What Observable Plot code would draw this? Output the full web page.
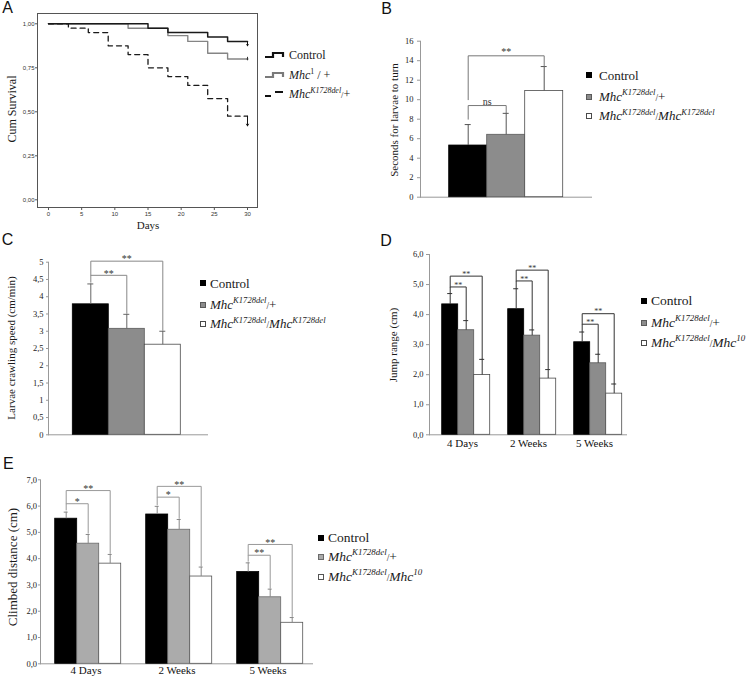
<!DOCTYPE html>
<html><head><meta charset="utf-8">
<script src="https://cdn.jsdelivr.net/npm/d3@7"></script>
<script src="https://cdn.jsdelivr.net/npm/@observablehq/plot@0.6"></script>
<style>
body{margin:0;background:#fff;}
#fig{position:relative;width:754px;height:678px;overflow:hidden;background:#fff;}
.t sup{font-size:0.66em;position:relative;top:-0.62em;vertical-align:baseline;line-height:0;}
.t .sl{font-size:0.72em;}
</style></head>
<body><div id="fig"></div>
<script>
// ---------- Panel A: Kaplan-Meier survival ----------
const controlDays = [0, 15, 18, 24, 27, 30];
const controlSurv = [1.0, 0.975, 0.95, 0.925, 0.9, 0.9];
const mhc1Days = [0, 12, 18, 21, 24, 27, 30];
const mhc1Surv = [1.0, 0.975, 0.933, 0.9, 0.833, 0.8, 0.8];
const k1728Days = [0, 3, 6, 9, 12, 15, 18, 21, 24, 27, 30];
const k1728Surv = [1.0, 0.975, 0.95, 0.875, 0.825, 0.75, 0.7, 0.65, 0.575, 0.475, 0.475];
const censorDay = [30, 30, 30];
const censorFrom = [0.9, 0.81, 0.475];
const censorTo = [0.875, 0.795, 0.42];
const censorColor = ["#111", "#333", "#111"];
const survTicksX = [0, 5, 10, 15, 20, 25, 30];
const survTicksY = [0, 0.25, 0.5, 0.75, 1];

// ---------- Panel B: seconds to turn ----------
const genoB = ["Control", "Mhc K1728del/+", "Mhc K1728del/Mhc K1728del"];
const turnMeans = [[5.3], [6.4], [10.9]];
const turnErrs = [[2.15], [2.2], [2.5]];
const turnBrackets = [
  {group: "all", from: 0, to: 1, top: 9.4, yl: 8.0, yr: 8.65, label: "ns"},
  {group: "all", from: 0, to: 2, top: 14.5, yl: 10.0, yr: 13.45, label: "**"}
];

// ---------- Panel C: crawling speed ----------
const crawlMeans = [[3.78], [3.07], [2.61]];
const crawlErrs = [[0.59], [0.42], [0.39]];
const crawlBrackets = [
  {group: "all", from: 0, to: 1, top: 4.62, yl: 4.42, yr: 3.52, label: "**"},
  {group: "all", from: 0, to: 2, top: 5.03, yl: 4.62, yr: 3.03, label: "**"}
];

// ---------- Panel D: jump range ----------
const ageGroups = ["4 Days", "2 Weeks", "5 Weeks"];
const genoD = ["Control", "Mhc K1728del/+", "Mhc K1728del/Mhc 10"];
const jumpControl = [4.34, 4.18, 3.08];
const jumpHet = [3.48, 3.30, 2.38];
const jumpHomo = [1.99, 1.87, 1.37];
const jumpControlErr = [0.36, 0.68, 0.34];
const jumpHetErr = [0.32, 0.19, 0.30];
const jumpHomoErr = [0.52, 0.30, 0.32];
const jumpBrackets = [
  {group: "4 Days", from: 0, to: 1, top: 4.92, yl: 4.72, yr: 3.82, label: "**"},
  {group: "4 Days", from: 0, to: 2, top: 5.28, yl: 4.92, yr: 2.53, label: "**"},
  {group: "2 Weeks", from: 0, to: 1, top: 5.12, yl: 4.88, yr: 3.51, label: "**"},
  {group: "2 Weeks", from: 0, to: 2, top: 5.48, yl: 5.12, yr: 2.19, label: "**"},
  {group: "5 Weeks", from: 0, to: 1, top: 3.68, yl: 3.44, yr: 2.70, label: "**"},
  {group: "5 Weeks", from: 0, to: 2, top: 4.03, yl: 3.68, yr: 1.71, label: "**"}
];

// ---------- Panel E: climbed distance ----------
const climbControl = [5.52, 5.68, 3.49];
const climbHet = [4.57, 5.10, 2.53];
const climbHomo = [3.81, 3.32, 1.56];
const climbControlErr = [0.25, 0.31, 0.35];
const climbHetErr = [0.35, 0.39, 0.31];
const climbHomoErr = [0.35, 0.36, 0.20];
const climbBrackets = [
  {group: "4 Days", from: 0, to: 1, top: 6.09, yl: 5.85, yr: 4.97, label: "*"},
  {group: "4 Days", from: 0, to: 2, top: 6.59, yl: 6.09, yr: 4.20, label: "**"},
  {group: "2 Weeks", from: 0, to: 1, top: 6.34, yl: 6.05, yr: 5.53, label: "*"},
  {group: "2 Weeks", from: 0, to: 2, top: 6.75, yl: 6.34, yr: 3.72, label: "**"},
  {group: "5 Weeks", from: 0, to: 1, top: 4.13, yl: 3.90, yr: 2.88, label: "**"},
  {group: "5 Weeks", from: 0, to: 2, top: 4.54, yl: 4.13, yr: 1.80, label: "**"}
];

// ---------- legend texts ----------
const legendA = ["Control", "<i>Mhc</i><sup>1</sup> / +", "<i>Mhc</i><sup><i>K1728del</i></sup><span class='sl'>/</span>+"];
const legendBC = ["Control", "<i>Mhc</i><sup><i>K1728del</i></sup><span class='sl'>/</span>+", "<i>Mhc</i><sup><i>K1728del</i></sup><span class='sl'>/</span><i>Mhc</i><sup><i>K1728del</i></sup>"];
const legendDE = ["Control", "<i>Mhc</i><sup><i>K1728del</i></sup><span class='sl'>/</span>+", "<i>Mhc</i><sup><i>K1728del</i></sup><span class='sl'>/</span><i>Mhc</i><sup><i>10</i></sup>"];

const SERIF = '"Liberation Serif","Times New Roman",serif';
const SANS = '"Liberation Sans",Arial,sans-serif';
const fig = document.getElementById("fig");

function place(el, left, top) {
  const d = document.createElement("div");
  d.style.cssText = `position:absolute;left:${left}px;top:${top}px;`;
  d.appendChild(el);
  fig.appendChild(d);
}
function label(html, x, y, {size = 11, family = SERIF, anchor = "middle", rotate = false, color = "#1a1a1a"} = {}) {
  const outer = document.createElement("div");
  outer.style.cssText = `position:absolute;left:${x}px;top:${y}px;width:0;height:0;`;
  const inner = document.createElement("div");
  inner.className = "t";
  inner.innerHTML = html;
  const tx = anchor === "start" ? "0" : anchor === "end" ? "-100%" : "-50%";
  inner.style.cssText = `position:absolute;left:0;top:0;white-space:nowrap;line-height:1;font-size:${size}px;font-family:${family};color:${color};transform:translate(${tx},-50%)${rotate ? " rotate(-90deg)" : ""};`;
  outer.appendChild(inner);
  fig.appendChild(outer);
}
function legend(labels, fills, strokes, {sx, tx, ys, size, sw = 6}) {
  labels.forEach((h, i) => {
    const sq = document.createElement("div");
    sq.style.cssText = `position:absolute;left:${sx}px;top:${ys[i] - sw / 2}px;width:${sw}px;height:${sw}px;background:${fills[i]};border:0.8px solid ${strokes[i]};box-sizing:border-box;`;
    fig.appendChild(sq);
    label(h, tx, ys[i], {size, anchor: "start"});
  });
}

// ---------- Panel A ----------
(function () {
  const ctl = controlDays.map((d, i) => ({day: d, s: controlSurv[i]}));
  const m1 = mhc1Days.map((d, i) => ({day: d, s: mhc1Surv[i]}));
  const kd = k1728Days.map((d, i) => ({day: d, s: k1728Surv[i]}));
  const cens = censorDay.map((d, i) => ({day: d, from: censorFrom[i], to: censorTo[i], c: censorColor[i]}));
  const comma2 = d => d.toFixed(2).replace(".", ",");
  const p = Plot.plot({
    width: 262, height: 232,
    marginLeft: 37, marginTop: 13, marginRight: 5, marginBottom: 25,
    x: {domain: [0, 30], range: [48, 247]},
    y: {domain: [0, 1], range: [199.3, 23.3]},
    style: {fontFamily: SANS, fontSize: "6px", color: "#333", background: "transparent", overflow: "visible", maxWidth: "none"},
    marks: [
      Plot.frame({stroke: "#555"}),
      Plot.axisX({ticks: survTicksX, tickSize: 3, tickPadding: 1, fontSize: 6, label: null, stroke: "#555"}),
      Plot.axisY({ticks: survTicksY, tickFormat: comma2, tickSize: 2, tickPadding: 1, fontSize: 6, label: null, stroke: "#555"}),
      Plot.line(m1, {x: "day", y: "s", curve: "step-after", stroke: "#858585", strokeWidth: 1.4}),
      Plot.line(ctl, {x: "day", y: "s", curve: "step-after", stroke: "#1a1a1a", strokeWidth: 1.5}),
      Plot.line(kd, {x: "day", y: "s", curve: "step-after", stroke: "#1a1a1a", strokeWidth: 1.3, strokeDasharray: "5,4"}),
      Plot.arrow(cens, {x1: "day", y1: "from", x2: "day", y2: "to", stroke: "c", headLength: 3, strokeWidth: 1})
    ]
  });
  place(p, 0, 0);
  label("Cum Survival", 12, 109, {size: 12, rotate: true});
  label("Days", 148, 225, {size: 11});
  // legend with step icons
  const icons = [
    {path: "M0,5H8V1H18V5", dash: null, color: "#111"},
    {path: "M0,5H8V1H18V5", dash: null, color: "#7a7a7a"},
    {path: "M0,5H6M10,1H18", dash: null, color: "#111"}
  ];
  const ys = [55, 75, 94];
  icons.forEach((ic, i) => {
    const s = document.createElementNS("http://www.w3.org/2000/svg", "svg");
    s.setAttribute("width", 20); s.setAttribute("height", 8);
    s.style.cssText = `position:absolute;left:265px;top:${ys[i] - 3}px;overflow:visible;`;
    const pth = document.createElementNS("http://www.w3.org/2000/svg", "path");
    pth.setAttribute("d", ic.path); pth.setAttribute("fill", "none");
    pth.setAttribute("stroke", ic.color); pth.setAttribute("stroke-width", 2.2);
    s.appendChild(pth); fig.appendChild(s);
    label(legendA[i], 289, ys[i], {size: 12, anchor: "start"});
  });
})();

// ---------- generic bar panel ----------
function barPanel(cfg) {
  const {left, top, width, height, margins, groups, genos, means, errs, fills, strokes,
    yDomain, yTicks, tickFormat, padOuter, align, capHalf, brackets, bracketColor, errColor,
    axisColor, bracketFont, bracketDy, tickFont, tickSize, tickPadding, showFx, fxPadding} = cfg;
  const rows = [];
  groups.forEach((g, gi) => genos.forEach((k, ki) => rows.push({group: g, geno: k, ki, mean: means[ki][gi], err: errs[ki][gi]})));
  const common = {
    width, height,
    marginLeft: margins[0], marginTop: margins[1], marginRight: margins[2], marginBottom: margins[3],
    x: {domain: genos, paddingInner: 0, paddingOuter: padOuter, align, axis: null},
    fx: {domain: groups, padding: 0, axis: null},
    y: {domain: yDomain},
    style: {fontFamily: SERIF, fontSize: tickFont + "px", color: "#222", background: "transparent", overflow: "visible", maxWidth: "none"}
  };
  const probe = Plot.plot({...common, marks: [Plot.barY(rows, {fx: "group", x: "geno", y: "mean"})]});
  const xs = probe.scale("x");
  const bw = xs.bandwidth, step = xs.step || xs.bandwidth;
  const inset = Math.max(0, bw / 2 - capHalf);
  const pts = [];
  brackets.forEach((b, i) => {
    pts.push({id: i, group: b.group, geno: genos[b.from], y: b.yl});
    pts.push({id: i, group: b.group, geno: genos[b.from], y: b.top});
    pts.push({id: i, group: b.group, geno: genos[b.to], y: b.top});
    pts.push({id: i, group: b.group, geno: genos[b.to], y: b.yr});
  });
  const odd = brackets.filter(b => (b.to - b.from) % 2 === 1).map(b => ({...b, mid: genos[b.from + Math.floor((b.to - b.from) / 2)]}));
  const even = brackets.filter(b => (b.to - b.from) % 2 === 0).map(b => ({...b, mid: genos[b.from + (b.to - b.from) / 2]}));
  const marks = [
    Plot.ruleY([0], {stroke: axisColor}),
    Plot.frame({anchor: "left", stroke: axisColor, facetAnchor: "left"}),
    Plot.axisY({ticks: yTicks, tickFormat, tickSize, tickPadding, fontSize: tickFont, label: null, stroke: axisColor}),
    Plot.barY(rows, {fx: "group", x: "geno", y: "mean", fill: d => fills[d.ki], stroke: d => strokes[d.ki], strokeWidth: 0.8}),
    Plot.ruleX(rows, {fx: "group", x: "geno", y1: "mean", y2: d => d.mean + d.err, stroke: errColor, strokeWidth: 1}),
    Plot.tickY(rows, {fx: "group", x: "geno", y: d => d.mean + d.err, insetLeft: inset, insetRight: inset, stroke: errColor, strokeWidth: 1}),
    Plot.line(pts, {fx: "group", x: "geno", y: "y", z: "id", stroke: bracketColor, strokeWidth: 1}),
    Plot.text(odd, {fx: "group", x: "mid", y: "top", text: "label", dx: step / 2, dy: bracketDy, fontSize: bracketFont, fill: "#333"}),
    Plot.text(even, {fx: "group", x: "mid", y: "top", text: "label", dy: bracketDy, fontSize: bracketFont, fill: "#333"})
  ];
  if (showFx) marks.push(Plot.axisFx({anchor: "bottom", tickSize: 0, tickPadding: fxPadding, fontSize: 11, label: null, fill: "#111"}));
  const p = Plot.plot({...common, marks});
  place(p, left, top);
}

const fillsDark = ["#000000", "#8c8c8c", "#ffffff"];
const strokesDark = ["#000000", "#5a5a5a", "#4a4a4a"];

// Panel B
barPanel({
  left: 380, top: 0, width: 215, height: 205, margins: [39.3, 40.7, 3, 8.3],
  groups: ["all"], genos: genoB, means: turnMeans, errs: turnErrs,
  fills: fillsDark, strokes: strokesDark,
  yDomain: [0, 16], yTicks: d3.range(0, 17, 2), tickFormat: d => String(d),
  padOuter: 0.74, align: 0.5, capHalf: 3, brackets: turnBrackets,
  bracketColor: "#777", errColor: "#555", axisColor: "#999",
  bracketFont: 10, bracketDy: -4, tickFont: 8.5, tickSize: 3, tickPadding: 4, showFx: false
});
label("Seconds for larvae to turn", 394, 120, {size: 11, rotate: true});
legend(legendBC, fillsDark, strokesDark, {sx: 586, tx: 599, ys: [75, 96.5, 116], size: 13});

// Panel C
barPanel({
  left: 0, top: 240, width: 215, height: 200, margins: [47.7, 21.7, 6.7, 5.7],
  groups: ["all"], genos: genoB, means: crawlMeans, errs: crawlErrs,
  fills: fillsDark, strokes: strokesDark,
  yDomain: [0, 5], yTicks: d3.range(0, 5.01, 0.5), tickFormat: d => String(d).replace(".", ","),
  padOuter: 0.72, align: 0.47, capHalf: 3, brackets: crawlBrackets,
  bracketColor: "#888", errColor: "#666", axisColor: "#999",
  bracketFont: 10, bracketDy: -2, tickFont: 8.5, tickSize: 2, tickPadding: 3, showFx: false
});
label("Larvae crawling speed (cm/min)", 11, 348, {size: 11, rotate: true});
legend(legendBC, fillsDark, strokesDark, {sx: 200, tx: 210, ys: [282.5, 304.5, 324], size: 13});

// Panel D
barPanel({
  left: 380, top: 240, width: 250, height: 215, margins: [48.3, 14, 2.7, 20.7],
  groups: ageGroups, genos: genoD,
  means: [jumpControl, jumpHet, jumpHomo], errs: [jumpControlErr, jumpHetErr, jumpHomoErr],
  fills: fillsDark, strokes: strokesDark,
  yDomain: [0, 6], yTicks: d3.range(0, 7, 1), tickFormat: d => d.toFixed(1).replace(".", ","),
  padOuter: 0.45, align: 0.72, capHalf: 2.5, brackets: jumpBrackets,
  bracketColor: "#333", errColor: "#333", axisColor: "#999",
  bracketFont: 8, bracketDy: -2, tickFont: 8.5, tickSize: 3, tickPadding: 3, showFx: true, fxPadding: 4
});
label("Jump range (cm)", 393, 345, {size: 11, rotate: true});
legend(legendDE, fillsDark, strokesDark, {sx: 641, tx: 651, ys: [301, 323, 343], size: 13.5});

// Panel E
const fillsE = ["#000000", "#ababab", "#ffffff"];
const strokesE = ["#000000", "#6a6a6a", "#555555"];
barPanel({
  left: 0, top: 440, width: 316, height: 238, margins: [39.3, 39.3, 3, 14.7],
  groups: ageGroups, genos: genoD,
  means: [climbControl, climbHet, climbHomo], errs: [climbControlErr, climbHetErr, climbHomoErr],
  fills: fillsE, strokes: strokesE,
  yDomain: [0, 7], yTicks: d3.range(0, 8, 1), tickFormat: d => d.toFixed(1).replace(".", ","),
  padOuter: 0.54, align: 0.57, capHalf: 2, brackets: climbBrackets,
  bracketColor: "#999", errColor: "#888", axisColor: "#999",
  bracketFont: 10, bracketDy: -2, tickFont: 8.5, tickSize: 2, tickPadding: 1.5, showFx: true, fxPadding: 2.5
});
label("Climbed distance (cm)", 12, 567, {size: 13, rotate: true});
legend(legendDE, fillsE, strokesE, {sx: 318, tx: 328, ys: [537.5, 557, 577], size: 13.5});

// panel letters
[["A", 7.7, 8], ["B", 386.7, 9.2], ["C", 7.5, 240], ["D", 386, 241], ["E", 8.3, 464]].forEach(([t, x, y]) =>
  label(t, x, y, {size: 16, family: SANS, color: "#111"}));
</script>
</body></html>
